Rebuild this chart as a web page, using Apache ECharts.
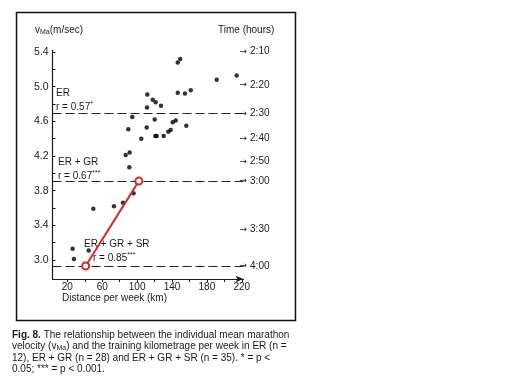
<!DOCTYPE html>
<html><head><meta charset="utf-8">
<script src="https://cdn.jsdelivr.net/npm/echarts@6/dist/echarts.min.js"></script>
<style>html,body{margin:0;padding:0;background:#fff}#c{width:512px;height:381px}</style>
</head><body><div id="c"></div>
<script>
// Scatter data: training distance per week (km) vs mean marathon velocity (m/s)
const distanceKm = [86.9, 91.5, 89.9, 94.5, 104.8, 111.0, 111.4, 111.7, 117.9, 121.3, 127.4, 120.2, 120.9, 122.5, 130.5, 135.8, 138.5, 140.8, 144.3, 156.4, 146.6, 149.5, 146.6, 154.9, 161.5, 191.3, 214.2, 91.1, 49.8, 73.5, 83.8, 95.9, 26.1, 27.6, 44.5];
const velocity   = [4.21, 4.24, 4.51, 4.65, 4.40, 4.53, 4.76, 4.91, 4.85, 4.82, 4.78, 4.62, 4.43, 4.43, 4.43, 4.48, 4.50, 4.59, 4.61, 4.55, 5.28, 5.32, 4.93, 4.92, 4.96, 5.08, 5.13, 4.07, 3.59, 3.62, 3.66, 3.77, 3.13, 3.01, 3.11];

const xTickLabels = [20, 60, 100, 140, 180, 220];
const xTickMarks  = [20, 40, 60, 80, 100, 120, 140, 160, 180, 200, 220];
const yTickLabels = [3.0, 3.4, 3.8, 4.2, 4.6, 5.0, 5.4];
const yTickMarks  = [3.0, 3.2, 3.4, 3.6, 3.8, 4.0, 4.2, 4.4, 4.6, 4.8, 5.0, 5.2, 5.4];

// Right-hand marathon time scale (time label and its velocity)
const timeLabels   = ['2:10', '2:20', '2:30', '2:40', '2:50', '3:00', '3:30', '4:00'];
const timeVelocity = [5.41, 5.02, 4.69, 4.40, 4.14, 3.91, 3.35, 2.93];

// Dashed reference levels (2:30, 3:00, 4:00)
const dashedLevels = [4.69, 3.91, 2.93];

// Red line endpoints
const redLineX = [41, 102];
const redLineY = [2.93, 3.91];

const FONT = '"Liberation Sans", Arial, Helvetica, sans-serif';
const INK = '#1a1a1a';

const chart = echarts.init(document.getElementById('c'), null, {renderer: 'canvas'});

const points = distanceKm.map((d, i) => [d, velocity[i]]);
const redLine = redLineX.map((x, i) => [x, redLineY[i]]);

function txt(x, y, text, rich) {
  return {
    type: 'text', x: x, y: y, silent: true,
    style: {text: text, font: '10px ' + FONT, fill: INK, rich: rich || {}, verticalAlign: 'middle', align: 'left'}
  };
}
const supRich = {sup: {fontSize: 7, fontFamily: FONT, fill: INK, padding: [0,0,5,0]}};
const subRich = {sub: {fontSize: 7, fontFamily: FONT, fill: INK, padding: [4,0,0,0]}};

chart.setOption({
  animation: false,
  backgroundColor: '#fff',
  grid: {left: 52.5, right: 268.5, top: 50.3, bottom: 102, containLabel: false},
  xAxis: {
    type: 'value', min: 3, max: 222,
    axisLine: {show: true, symbol: ['none', 'arrow'], symbolSize: [5, 8], lineStyle: {color: INK, width: 1.2}},
    axisTick: {show: true, customValues: xTickMarks, length: 3, inside: false, lineStyle: {color: INK}},
    axisLabel: {customValues: xTickLabels, color: INK, fontSize: 10, fontFamily: FONT, margin: 3},
    splitLine: {show: false}
  },
  yAxis: [{
    type: 'value', min: 2.78, max: 5.42,
    axisLine: {show: true, lineStyle: {color: INK, width: 1.2}},
    axisTick: {show: true, customValues: yTickMarks, length: 3, inside: true, lineStyle: {color: INK}},
    axisLabel: {customValues: yTickLabels, color: INK, fontSize: 10.5, fontFamily: FONT, margin: 4,
      formatter: v => v.toFixed(1)},
    splitLine: {show: false}
  }, {
    type: 'value', min: 2.78, max: 5.42, position: 'right',
    axisLine: {show: false}, axisTick: {show: false}, splitLine: {show: false},
    axisLabel: {customValues: timeVelocity, color: INK, fontSize: 10, fontFamily: FONT, margin: -4,
      rich: {arr: {fontFamily: '"DejaVu Sans", sans-serif', fontSize: 9, color: INK, padding: [0, 3, 0, 0]}},
      formatter: v => {
        let best = 0;
        timeVelocity.forEach((t, i) => { if (Math.abs(t - v) < Math.abs(timeVelocity[best] - v)) best = i; });
        return '{arr|→}' + timeLabels[best];
      }}
  }],
  series: [{
    type: 'scatter', data: points, symbolSize: 4.5,
    itemStyle: {color: '#000'},
    markLine: {
      silent: true, symbol: ['none', 'none'],
      label: {show: false},
      lineStyle: {type: [9, 4], color: '#222', width: 1.2},
      data: dashedLevels.map(v => ({yAxis: v}))
    }
  }, {
    type: 'line', data: redLine, z: 5,
    lineStyle: {color: '#d42a2a', width: 2},
    symbol: 'circle', symbolSize: 7,
    itemStyle: {color: '#fff', borderColor: '#d42a2a', borderWidth: 2}
  }],
  graphic: [
    {type: 'rect', left: 14, top: 10, shape: {x: 0, y: 0, width: 279, height: 308},
     style: {fill: null, stroke: '#111', lineWidth: 1.5}, silent: true},
    txt(35, 30, 'v{sub|Ma}(m/sec)', subRich),
    txt(218, 30, 'Time (hours)'),
    txt(56, 93, 'ER'),
    txt(56, 107, 'r = 0.57{sup|*}', supRich),
    txt(58, 162, 'ER + GR'),
    txt(58, 176, 'r = 0.67{sup|***}', supRich),
    txt(84, 244, 'ER + GR + SR'),
    txt(93, 258, 'r = 0.85{sup|***}', supRich),
    txt(62, 298, 'Distance per week (km)'),
    txt(12, 335, '{b|Fig. 8.} The relationship between the individual mean marathon',
        {b: {fontWeight: 'bold', fontSize: 10, fontFamily: FONT, fill: INK}}),
    txt(12, 346.5, 'velocity (v{sub|Ma}) and the training kilometrage per week in ER (n =', subRich),
    txt(12, 358, '12), ER + GR (n = 28) and ER + GR + SR (n = 35). * = p <'),
    txt(12, 369.5, '0.05; *** = p < 0.001.')
  ]
});
</script>
</body></html>
